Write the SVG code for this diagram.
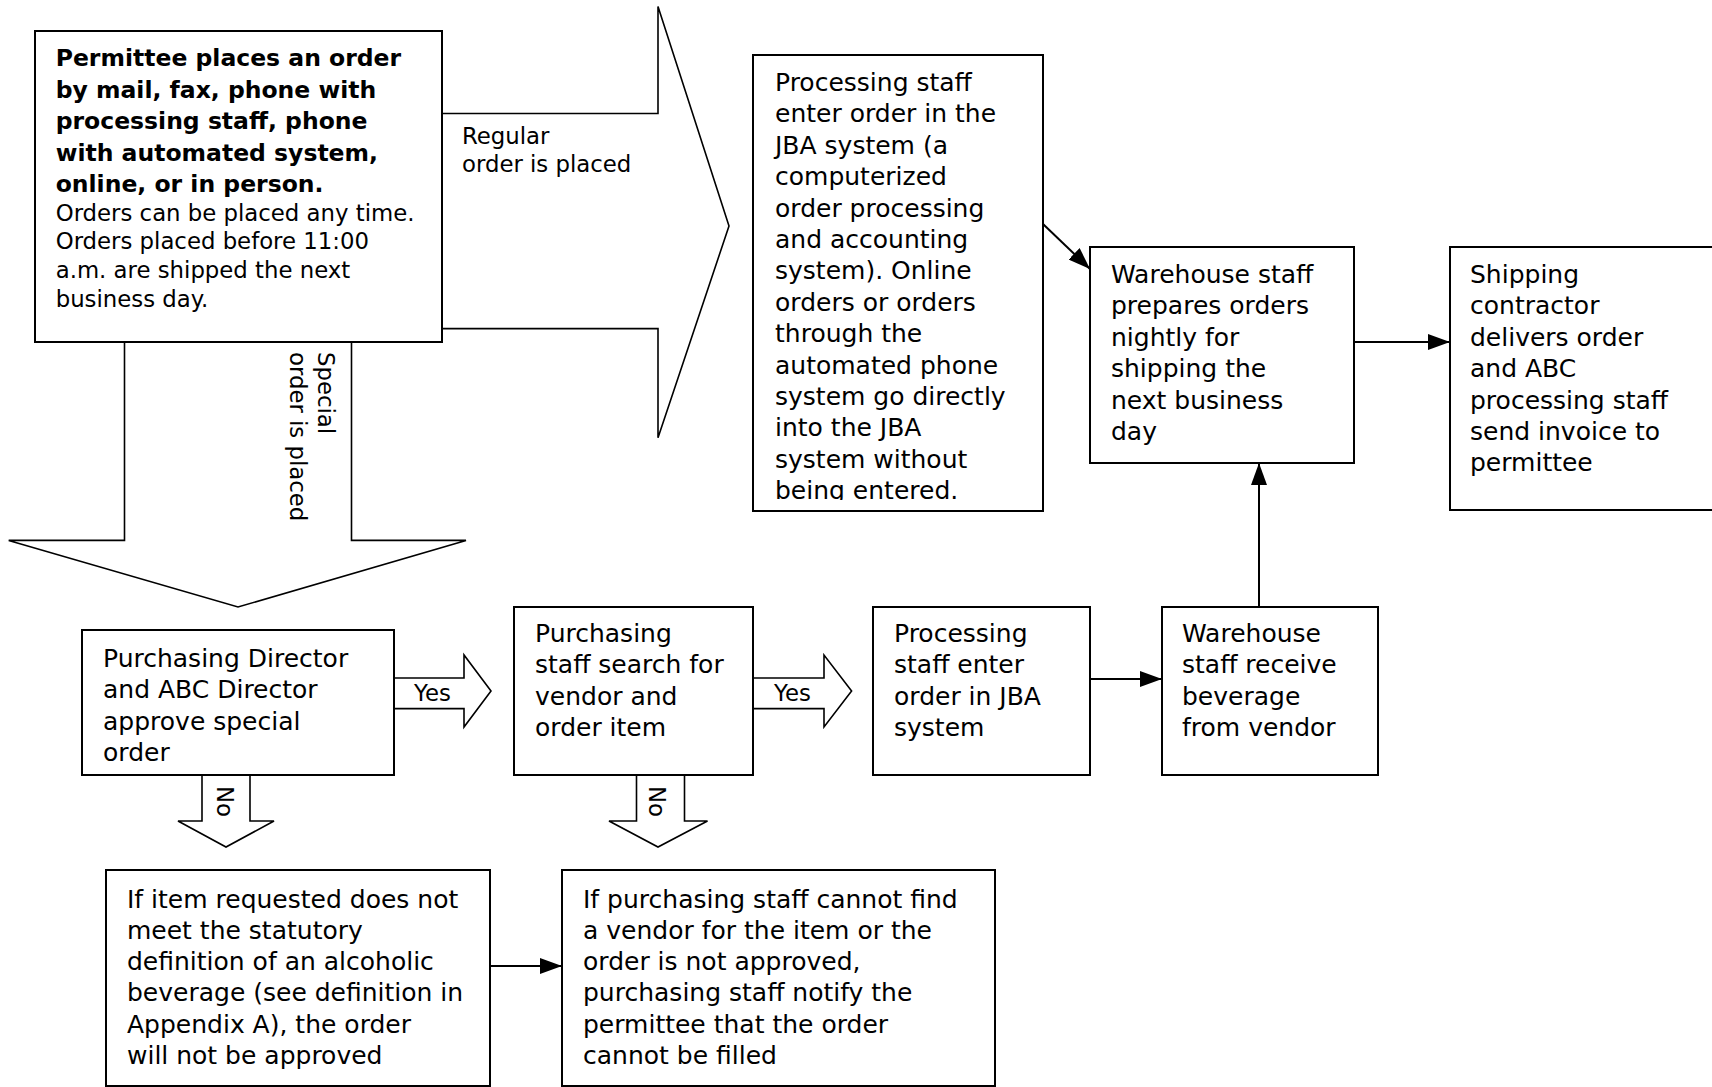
<svg xmlns="http://www.w3.org/2000/svg" width="1712" height="1087" viewBox="0 0 1712 1087">
<style>
.box{fill:#fff;stroke:#000;stroke-width:2}
.big{fill:#fff;stroke:#000;stroke-width:1.6;stroke-linejoin:miter}
.t{font-family:"DejaVu Sans",sans-serif;font-size:25px;fill:#000}
.s{font-family:"DejaVu Sans",sans-serif;font-size:22.8px;fill:#000}
.b{font-family:"DejaVu Sans",sans-serif;font-size:23.5px;font-weight:bold;fill:#000}
.c{stroke:#000;stroke-width:2;fill:none}
</style>
<defs>
<marker id="ah2" viewBox="0 0 22 16" refX="22" refY="8" markerWidth="22" markerHeight="16" markerUnits="userSpaceOnUse" orient="auto">
<path d="M0,0 L22,8 L0,16 Z" fill="#000"/>
</marker>
<clipPath id="clipTop"><rect x="753" y="55" width="290" height="445"/></clipPath>
</defs>

<g id="big-arrows">
<polygon class="big" points="440,113.5 658,113.5 658,6.5 729,226 658,437.8 658,328.6 440,328.6"/>
<polygon class="big" points="124.5,340 124.5,540.4 8.7,540.4 238,607 466,540.4 351.5,540.4 351.5,340"/>
<polygon class="big" points="392,678 464,678 464,655 491,691 464,727 464,708.6 392,708.6"/>
<polygon class="big" points="751,678 824,678 824,655 851.6,691 824,727 824,708.6 751,708.6"/>
<polygon class="big" points="202,773 202,821 178,821 226,847 274,821 250,821 250,773"/>
<polygon class="big" points="636.5,773 636.5,821 609,821 658,847 707.5,821 684.5,821 684.5,773"/>
<text class="s" x="462" y="144">Regular</text>
<text class="s" x="462" y="172">order is placed</text>
<text class="s" transform="translate(318,352) rotate(90)">Special</text>
<text class="s" transform="translate(290,352) rotate(90)">order is placed</text>
<text class="s" x="414" y="701">Yes</text>
<text class="s" x="774" y="701">Yes</text>
<text class="s" transform="translate(217,786) rotate(90)">No</text>
<text class="s" transform="translate(649,786) rotate(90)">No</text>
</g>

<g id="connectors">
<line class="c" x1="1043" y1="224" x2="1090" y2="269" marker-end="url(#ah2)"/>
<line class="c" x1="1354" y1="342" x2="1450" y2="342" marker-end="url(#ah2)"/>
<line class="c" x1="1259" y1="607" x2="1259" y2="463" marker-end="url(#ah2)"/>
<line class="c" x1="1090" y1="679" x2="1162" y2="679" marker-end="url(#ah2)"/>
<line class="c" x1="490" y1="966" x2="562" y2="966" marker-end="url(#ah2)"/>
</g>

<g id="node-permittee">
<rect class="box" x="35" y="31" width="407" height="311"/>
<text class="b" x="55.7" y="66">Permittee places an order</text>
<text class="b" x="55.7" y="97.6">by mail, fax, phone with</text>
<text class="b" x="55.7" y="129.2">processing staff, phone</text>
<text class="b" x="55.7" y="160.8">with automated system,</text>
<text class="b" x="55.7" y="192.4">online, or in person.</text>
<text class="s" x="55.7" y="220.5">Orders can be placed any time.</text>
<text class="s" x="55.7" y="249.2">Orders placed before 11:00</text>
<text class="s" x="55.7" y="277.9">a.m. are shipped the next</text>
<text class="s" x="55.7" y="306.6">business day.</text>
</g>

<g id="node-processing-regular">
<rect class="box" x="753" y="55" width="290" height="456"/>
<g clip-path="url(#clipTop)">
<text class="t" x="775" y="91">Processing staff</text>
<text class="t" x="775" y="122.4">enter order in the</text>
<text class="t" x="775" y="153.8">JBA system (a</text>
<text class="t" x="775" y="185.2">computerized</text>
<text class="t" x="775" y="216.6">order processing</text>
<text class="t" x="775" y="248">and accounting</text>
<text class="t" x="775" y="279.4">system). Online</text>
<text class="t" x="775" y="310.8">orders or orders</text>
<text class="t" x="775" y="342.2">through the</text>
<text class="t" x="775" y="373.6">automated phone</text>
<text class="t" x="775" y="405">system go directly</text>
<text class="t" x="775" y="436.4">into the JBA</text>
<text class="t" x="775" y="467.8">system without</text>
<text class="t" x="775" y="499.2">being entered.</text>
</g>
</g>

<g id="node-warehouse-prepares">
<rect class="box" x="1090" y="247" width="264" height="216"/>
<text class="t" x="1111" y="283">Warehouse staff</text>
<text class="t" x="1111" y="314.4">prepares orders</text>
<text class="t" x="1111" y="345.8">nightly for</text>
<text class="t" x="1111" y="377.2">shipping the</text>
<text class="t" x="1111" y="408.6">next business</text>
<text class="t" x="1111" y="440">day</text>
</g>

<g id="node-shipping">
<rect class="box" x="1450" y="247" width="263" height="263"/>
<text class="t" x="1470" y="283">Shipping</text>
<text class="t" x="1470" y="314.4">contractor</text>
<text class="t" x="1470" y="345.8">delivers order</text>
<text class="t" x="1470" y="377.2">and ABC</text>
<text class="t" x="1470" y="408.6">processing staff</text>
<text class="t" x="1470" y="440">send invoice to</text>
<text class="t" x="1470" y="471.4">permittee</text>
</g>

<g id="node-directors">
<rect class="box" x="82" y="630" width="312" height="145"/>
<text class="t" x="103" y="667">Purchasing Director</text>
<text class="t" x="103" y="698.4">and ABC Director</text>
<text class="t" x="103" y="729.8">approve special</text>
<text class="t" x="103" y="761.2">order</text>
</g>

<g id="node-purchasing-search">
<rect class="box" x="514" y="607" width="239" height="168"/>
<text class="t" x="535" y="642">Purchasing</text>
<text class="t" x="535" y="673.4">staff search for</text>
<text class="t" x="535" y="704.8">vendor and</text>
<text class="t" x="535" y="736.2">order item</text>
</g>

<g id="node-processing-special">
<rect class="box" x="873" y="607" width="217" height="168"/>
<text class="t" x="894" y="642">Processing</text>
<text class="t" x="894" y="673.4">staff enter</text>
<text class="t" x="894" y="704.8">order in JBA</text>
<text class="t" x="894" y="736.2">system</text>
</g>

<g id="node-warehouse-receive">
<rect class="box" x="1162" y="607" width="216" height="168"/>
<text class="t" x="1182" y="642">Warehouse</text>
<text class="t" x="1182" y="673.4">staff receive</text>
<text class="t" x="1182" y="704.8">beverage</text>
<text class="t" x="1182" y="736.2">from vendor</text>
</g>

<g id="node-not-approved">
<rect class="box" x="106" y="870" width="384" height="216"/>
<text class="t" x="127" y="907.5">If item requested does not</text>
<text class="t" x="127" y="938.8">meet the statutory</text>
<text class="t" x="127" y="970.1">definition of an alcoholic</text>
<text class="t" x="127" y="1001.4">beverage (see definition in</text>
<text class="t" x="127" y="1032.7">Appendix A), the order</text>
<text class="t" x="127" y="1064">will not be approved</text>
</g>

<g id="node-cannot-fill">
<rect class="box" x="562" y="870" width="433" height="216"/>
<text class="t" x="583" y="907.5">If purchasing staff cannot find</text>
<text class="t" x="583" y="938.8">a vendor for the item or the</text>
<text class="t" x="583" y="970.1">order is not approved,</text>
<text class="t" x="583" y="1001.4">purchasing staff notify the</text>
<text class="t" x="583" y="1032.7">permittee that the order</text>
<text class="t" x="583" y="1064">cannot be filled</text>
</g>
</svg>
